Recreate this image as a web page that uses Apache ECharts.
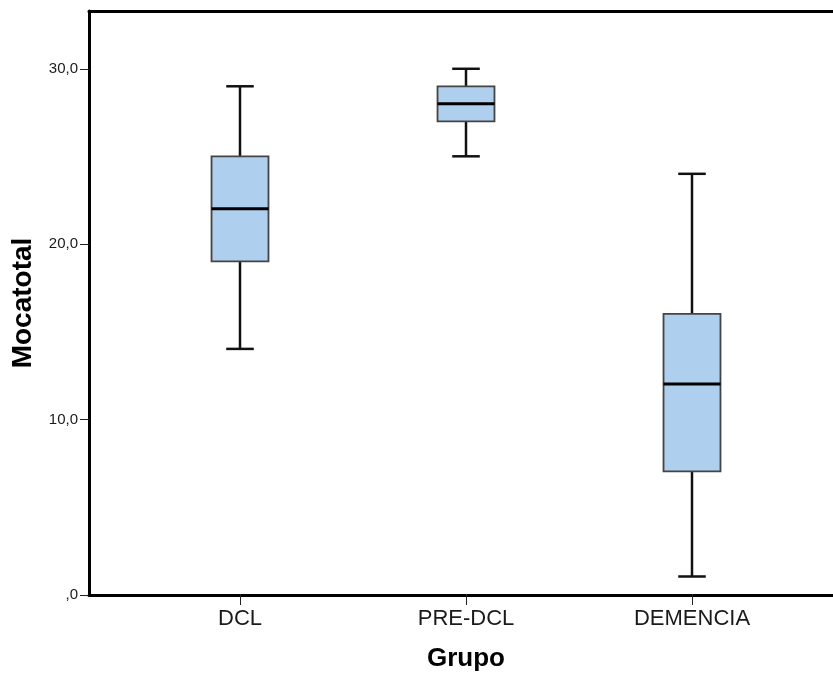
<!DOCTYPE html>
<html>
<head>
<meta charset="utf-8">
<script src="https://cdn.jsdelivr.net/npm/echarts@6/dist/echarts.min.js"></script>
<style>
html,body{margin:0;padding:0;background:#fff;}
#chart{width:833px;height:677px;}
</style>
</head>
<body>
<div id="chart"></div>
<script>
const categories = ['DCL', 'PRE-DCL', 'DEMENCIA'];
const whiskerLow = [14, 25, 1];
const q1 = [19, 27, 7];
const medians = [22, 28, 12];
const q3 = [25, 29, 16];
const whiskerHigh = [29, 30, 24];
const yTicks = [0, 10, 20, 30];
const yMax = 33.3;

const FONT = '"Liberation Sans", Arial, sans-serif';
const seriesData = categories.map((c, i) => [i, whiskerLow[i], q1[i], medians[i], q3[i], whiskerHigh[i]]);

function renderItem(params, api) {
  const x = api.value(0);
  const band = api.size([1, 0])[0];
  const bw = band * 0.252;
  const cw = band * 0.122;
  const pLo = api.coord([x, api.value(1)]);
  const pQ1 = api.coord([x, api.value(2)]);
  const pMed = api.coord([x, api.value(3)]);
  const pQ3 = api.coord([x, api.value(4)]);
  const pHi = api.coord([x, api.value(5)]);
  const cx = pLo[0];
  const wStyle = {stroke: '#111', lineWidth: 2.5};
  return {
    type: 'group',
    children: [
      {type: 'line', shape: {x1: cx, y1: pLo[1], x2: cx, y2: pQ1[1]}, style: wStyle},
      {type: 'line', shape: {x1: cx, y1: pQ3[1], x2: cx, y2: pHi[1]}, style: wStyle},
      {type: 'line', shape: {x1: cx - cw / 2, y1: pLo[1], x2: cx + cw / 2, y2: pLo[1]}, style: wStyle},
      {type: 'line', shape: {x1: cx - cw / 2, y1: pHi[1], x2: cx + cw / 2, y2: pHi[1]}, style: wStyle},
      {type: 'rect', shape: {x: cx - bw / 2, y: pQ3[1], width: bw, height: pQ1[1] - pQ3[1]},
        style: {fill: '#aecfee', stroke: '#444', lineWidth: 1.8}},
      {type: 'line', shape: {x1: cx - bw / 2, y1: pMed[1], x2: cx + bw / 2, y2: pMed[1]},
        style: {stroke: '#000', lineWidth: 3}}
    ]
  };
}

const frameLine = {show: true, lineStyle: {color: '#000', width: 3}};

const chart = echarts.init(document.getElementById('chart'), null, {renderer: 'canvas'});
chart.setOption({
  animation: false,
  backgroundColor: '#fff',
  grid: [
    {left: 89, top: 11, right: 0, bottom: 82},
    {left: 127, top: 11, right: 28, bottom: 82}
  ],
  xAxis: [
    {type: 'value', gridIndex: 0, position: 'bottom', min: 0, max: 1,
      axisLine: frameLine, axisTick: {show: false}, axisLabel: {show: false}, splitLine: {show: false}},
    {
      type: 'category', gridIndex: 1, data: categories,
      axisLine: {show: false},
      axisTick: {show: true, alignWithLabel: true, length: 11, lineStyle: {color: '#222', width: 1}},
      axisLabel: {margin: 14, fontFamily: FONT, fontSize: 22, color: '#1a1a1a'},
      name: 'Grupo', nameLocation: 'middle', nameGap: 52,
      nameTextStyle: {fontFamily: FONT, fontSize: 26, fontWeight: 'bold', color: '#000'}
    },
    {type: 'value', gridIndex: 0, position: 'top', min: 0, max: 1,
      axisLine: frameLine, axisTick: {show: false}, axisLabel: {show: false}, splitLine: {show: false}}
  ],
  yAxis: [
    {
      type: 'value', gridIndex: 0, min: 0, max: yMax,
      splitLine: {show: false},
      axisLine: frameLine,
      axisTick: {show: true, length: 9, customValues: yTicks, lineStyle: {color: '#222', width: 1}},
      axisLabel: {
        customValues: yTicks, margin: 11, fontFamily: FONT, fontSize: 15, color: '#1a1a1a',
        formatter: v => v === 0 ? ',0' : v.toFixed(1).replace('.', ',')
      },
      name: 'Mocatotal', nameLocation: 'middle', nameGap: 52,
      nameTextStyle: {fontFamily: FONT, fontSize: 28, fontWeight: 'bold', color: '#000'}
    },
    {type: 'value', gridIndex: 1, min: 0, max: yMax, show: false}
  ],
  series: [{
    type: 'custom',
    xAxisIndex: 1, yAxisIndex: 1,
    data: seriesData,
    renderItem: renderItem,
    clip: false
  }]
});
</script>
</body>
</html>
